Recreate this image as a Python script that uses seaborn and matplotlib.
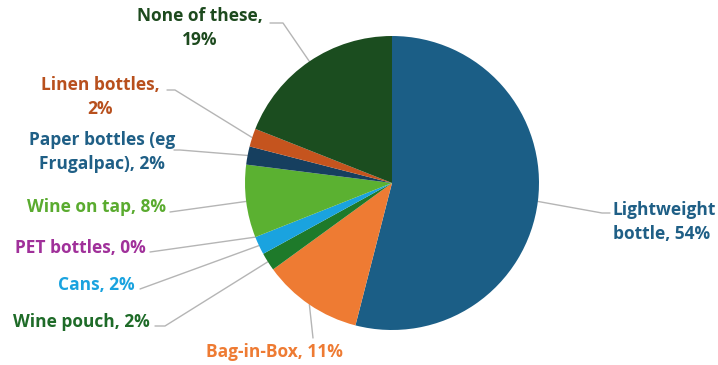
import numpy as np
import matplotlib
matplotlib.use("Agg")
import matplotlib.pyplot as plt
import seaborn as sns

sns.set_theme(style="white")
plt.rcParams['font.family'] = ['Open Sans', 'DejaVu Sans']

# data (clockwise from 12 o'clock)
labels = ["Lightweight\nbottle, 54%", "Bag-in-Box, 11%", "Wine pouch, 2%", "Cans, 2%",
          "PET bottles, 0%", "Wine on tap, 8%", "Paper bottles (eg\nFrugalpac), 2%",
          "Linen bottles,\n2%", "None of these,\n19%"]
values = [54, 11, 2, 2, 0, 8, 2, 2, 19]
colors = ["#1b5e86", "#ee7b33", "#1e7a2a", "#1aa3df", "#a0309a",
          "#5bb131", "#163f5f", "#c5541e", "#1b4d1f"]
text_colors = ["#1f5f86", "#ee7b33", "#1e6b28", "#1aa3df", "#a0309a",
               "#5aab2f", "#1f5f86", "#b8501d", "#1d4a1e"]

W, H = 718, 365
cx, cy, R = 392, 183, 147

fig = plt.figure(figsize=(W / 100, H / 100), dpi=100)
ax = fig.add_axes([0, 0, 1, 1])

wedges, _ = ax.pie(values, colors=colors, startangle=90, counterclock=False,
                   radius=1, wedgeprops=dict(linewidth=0))
ax.set_xlim(-cx / R, (W - cx) / R)
ax.set_ylim(-(H - cy) / R, cy / R)
ax.set_aspect('equal')
ax.axis('off')


def px(x, y):
    return (x - cx) / R, (cy - y) / R


# label layout: text pos (px), ha, leader path near text (px)
layout = [
    ((613, 222), 'left', [(610, 213), (602, 213)]),
    ((274, 352), 'center', [(313, 338)]),
    ((150, 322), 'right', [(155, 326), (165, 326)]),
    ((135, 285), 'right', [(140, 289)]),
    ((146, 248), 'right', [(150, 252)]),
    ((166, 207), 'right', [(170, 212)]),
    ((102, 152), 'center', [(174, 150), (180, 150)]),
    ((100, 97), 'center', [(167, 90), (175, 90)]),
    ((200, 28), 'center', [(270, 23), (283, 23)]),
]

for w, lab, tc, (tpos, ha, path) in zip(wedges, labels, text_colors, layout):
    ang = np.deg2rad((w.theta1 + w.theta2) / 2)
    edge = (np.cos(ang), np.sin(ang))
    pts = [px(*p) for p in path] + [edge]
    ax.plot([p[0] for p in pts], [p[1] for p in pts], color="#b5b5b5", lw=1, zorder=0)
    ax.text(*px(*tpos), lab, ha=ha, va='center', color=tc, fontsize=12.5,
            fontweight='bold', linespacing=1.45,
            multialignment='left' if ha == 'left' else 'center')

fig.savefig("out.png", dpi=100)
